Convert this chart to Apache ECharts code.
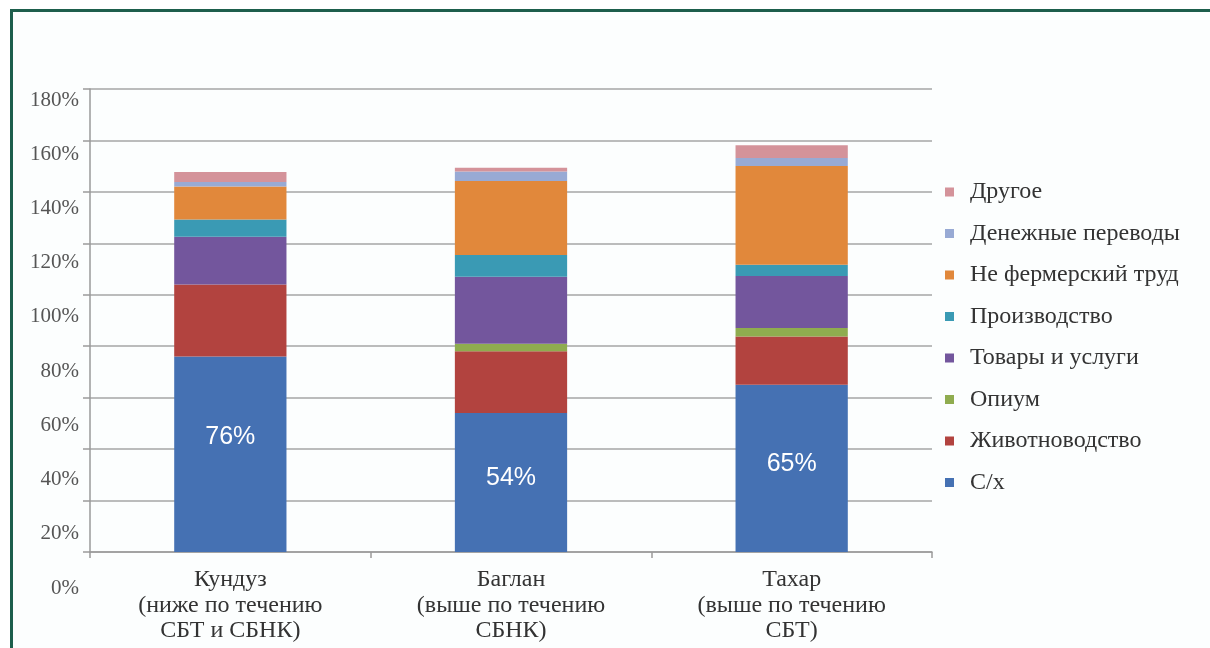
<!DOCTYPE html>
<html>
<head>
<meta charset="utf-8">
<script src="https://cdn.jsdelivr.net/npm/echarts@6/dist/echarts.min.js"></script>
<style>
  html, body { margin: 0; padding: 0; background: #ffffff; }
  #frame {
    position: absolute; left: 10px; top: 9px; width: 1210px; height: 660px;
    border-left: 3px solid #1d5e4c; border-top: 3px solid #1d5e4c;
    background: #fcfefe;
  }
  #chart { position: absolute; left: 0; top: 0; width: 1210px; height: 648px; }
</style>
</head>
<body>
<div id="frame"></div>
<div id="chart"></div>
<script>
// Regions (x-axis categories)
const categories = [
  'Кундуз\n(ниже по течению\nСБТ и СБНК)',
  'Баглан\n(выше по течению\nСБНК)',
  'Тахар\n(выше по течению\nСБТ)'
];

// Income sources, bottom to top of each stack (percent)
const seriesNames = [
  'С/х', 'Животноводство', 'Опиум', 'Товары и услуги',
  'Производство', 'Не фермерский труд', 'Денежные переводы', 'Другое'
];
const agriculture   = [76, 54, 65];
const livestock     = [28, 24, 18.8];
const opium         = [0, 3, 3.3];
const goodsServices = [18.6, 26, 20.2];
const production    = [6.7, 8.5, 4.4];
const offFarmLabour = [12.8, 28.7, 38.4];
const remittances   = [1.7, 3.7, 3.1];
const other         = [3.9, 1.5, 4.9];

// Value axis ticks
const yMin = 0, yMax = 180, yStep = 20;

const seriesValues = [agriculture, livestock, opium, goodsServices,
                      production, offFarmLabour, remittances, other];
const colors = ['#4571b3', '#b2433f', '#8fac4f', '#73569d',
                '#3a9ab4', '#e1883b', '#98aad4', '#d4939a'];

// vertical nudge of the value label inside each С/х bar
const valueLabelShift = [-17, -4, -4];

const serif = '"Liberation Serif", "Times New Roman", serif';

const chart = echarts.init(document.getElementById('chart'), null, { renderer: 'canvas' });

const series = seriesNames.map((name, i) => ({
  name: name,
  type: 'bar',
  stack: 'total',
  barWidth: '40%',
  xAxisIndex: 0,
  yAxisIndex: 0,
  itemStyle: { color: colors[i] },
  data: i === 0
    ? seriesValues[i].map((v, k) => ({ value: v, label: { offset: [0, valueLabelShift[k]] } }))
    : seriesValues[i],
  label: i === 0 ? {
    show: true,
    position: 'inside',
    color: '#ffffff',
    fontFamily: '"Liberation Sans", Arial, sans-serif',
    fontSize: 25,
    formatter: p => p.value + '%'
  } : { show: false }
}));

chart.setOption({
  backgroundColor: 'transparent',
  animation: false,
  color: colors,
  grid: [
    { left: 90, right: 278, top: 89, bottom: 96 },
    // percent labels column
    { left: 90, width: 10, top: 100, bottom: 60, show: false }
  ],
  legend: {
    orient: 'vertical',
    left: 940,
    top: 175,
    itemWidth: 9,
    itemHeight: 9,
    itemGap: 17.5,
    icon: 'rect',
    data: seriesNames.slice().reverse(),
    textStyle: {
      fontFamily: serif, fontSize: 24, color: '#333333', lineHeight: 24,
      padding: [0, 0, 0, 11]
    }
  },
  xAxis: [
    {
      type: 'category',
      gridIndex: 0,
      data: categories,
      axisLine: { lineStyle: { color: '#9a9a9a', width: 1.5 } },
      axisTick: { show: true, length: 6, lineStyle: { color: '#9a9a9a', width: 1.5 } },
      axisLabel: {
        margin: 15,
        fontFamily: serif,
        fontSize: 24,
        lineHeight: 25.5,
        color: '#333333'
      }
    },
    { type: 'category', gridIndex: 1, show: false, data: [''] }
  ],
  yAxis: [
    {
      type: 'value',
      gridIndex: 0,
      min: yMin, max: yMax, interval: yStep,
      axisLine: { show: true, lineStyle: { color: '#9a9a9a', width: 1.5 } },
      axisTick: { show: true, length: 7, lineStyle: { color: '#9a9a9a', width: 1.5 } },
      axisLabel: { show: false },
      splitLine: { lineStyle: { color: '#a6a6a6', width: 1.5 } }
    },
    {
      type: 'value',
      gridIndex: 1,
      min: yMin, max: yMax, interval: yStep,
      axisLine: { show: false },
      axisTick: { show: false },
      splitLine: { show: false },
      axisLabel: {
        margin: 11,
        fontFamily: serif,
        fontSize: 21,
        color: '#555555',
        formatter: v => v + '%'
      }
    }
  ],
  series: series
});
</script>
</body>
</html>
